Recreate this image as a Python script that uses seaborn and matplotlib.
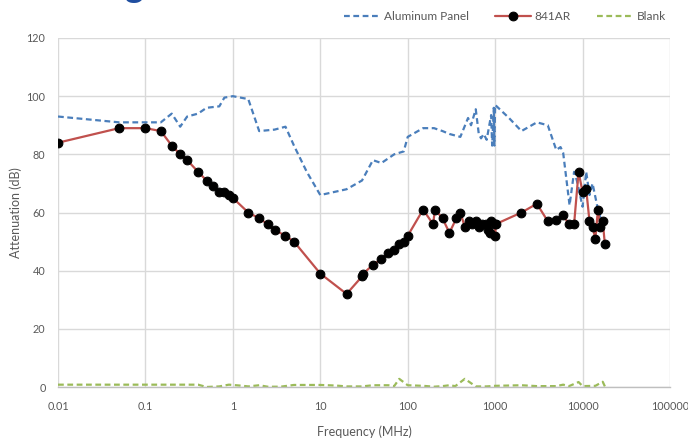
import matplotlib
matplotlib.use("Agg")
import matplotlib.pyplot as plt
import matplotlib.ticker as mticker
import seaborn as sns
import pandas as pd

# ---- data ----
al_freq = [0.01, 0.05, 0.1, 0.15, 0.2, 0.25, 0.3, 0.4, 0.5, 0.7, 0.8, 1, 1.5, 2, 3, 4, 5, 7,
           10, 20, 30, 40, 50, 70, 90, 100, 150, 200, 250, 300, 400, 490, 530, 600, 650, 690,
           740, 800, 900, 925, 965, 980, 1000, 1440, 2000, 3000, 4000, 5000, 5600, 6000, 7100,
           8000, 8600, 10000, 11000, 12000, 13000, 15000, 16500]
al_att = [93, 91, 91, 91, 94, 89.5, 93, 94, 96, 96.5, 99.5, 100, 99, 88, 88.5, 89.5, 83, 74,
          66, 68, 71, 78, 77, 80, 81, 86, 89, 89, 88, 87, 86, 92.5, 90, 95.5, 87, 85.5,
          87, 85, 93.5, 83, 96, 83, 97, 92.5, 88, 91, 90, 81.5, 82.5, 80.5, 62.5,
          74, 71, 62, 74, 66, 70, 61, 57]

ar_freq = [0.01, 0.05, 0.1, 0.15, 0.2, 0.25, 0.3, 0.4, 0.5, 0.6, 0.7, 0.8, 0.9, 1, 1.5, 2, 2.5,
           3, 4, 5, 10, 20, 30, 31, 40, 50, 60, 70, 80, 90, 100, 150, 195, 205, 250, 300, 360,
           400, 450, 500, 550, 600, 650, 700, 780, 820, 865, 900, 990, 1000, 1015, 2000, 3000,
           4000, 5000, 6000, 7000, 8000, 9000, 10000, 11000, 12000, 13000, 14000, 15000, 16000,
           17000, 18000]
ar_att = [84, 89, 89, 88, 83, 80, 78, 74, 71, 69, 67, 67, 66, 65, 60, 58, 56,
          54, 52, 50, 39, 32, 38, 39, 42, 44, 46, 47, 49, 50, 52, 61, 56, 61, 58, 53, 58,
          60, 55, 57, 56, 57, 55, 56, 56, 54, 53, 57, 56, 52, 56, 60, 63,
          57, 57.5, 59, 56, 56, 74, 67, 68, 57, 55, 51, 61, 55,
          57, 49]

bl_freq = [0.01, 0.05, 0.1, 0.2, 0.4, 0.5, 0.7, 0.9, 1.2, 1.5, 2, 2.5, 3.5, 5, 10, 15, 20, 30,
           40, 60, 70, 80, 100, 150, 200, 250, 300, 350, 450, 600, 800, 1000, 2000, 3000, 5000,
           6000, 7000, 9000, 10000, 14000, 17000, 18000]
bl_att = [0.8, 0.8, 0.8, 0.8, 0.8, 0.0, 0.2, 0.8, 0.5, 0.2, 0.6, 0.1, 0.1, 0.7, 0.7, 0.5, 0.2, 0.2,
          0.6, 0.6, 0.3, 2.8, 0.6, 0.4, 0.1, 0.3, 0.6, 0.3, 2.8, 0.2, 0.2, 0.4, 0.6, 0.3, 0.3,
          0.8, 0.3, 1.7, 0.3, 0.4, 1.8, 0.2]

x_ticks = [0.01, 0.1, 1, 10, 100, 1000, 10000, 100000]
x_tick_labels = ["0.01", "0.1", "1", "10", "100", "1000", "10000", "100000"]
y_ticks = [0, 20, 40, 60, 80, 100, 120]

# ---- style ----
sns.set_theme(style="white")
plt.rcParams["font.family"] = ["Lato", "DejaVu Sans"]

BLUE = "#4A7EBB"
RED = "#C0504D"
GREEN = "#9BBB59"
TXT = "#595959"
GRID = "#D9D9D9"

fig = plt.figure(figsize=(6.88, 4.38), dpi=100)
ax = fig.add_axes([58 / 688, 1 - 387 / 438, (670 - 58) / 688, (387 - 38) / 438])

df_al = pd.DataFrame({"f": al_freq, "a": al_att})
df_ar = pd.DataFrame({"f": ar_freq, "a": ar_att})
df_bl = pd.DataFrame({"f": bl_freq, "a": bl_att})

dash = (0, (2.6, 1.6))
sns.lineplot(data=df_al, x="f", y="a", ax=ax, color=BLUE, lw=1.6, sort=False,
             estimator=None, label="Aluminum Panel", linestyle=dash)
sns.lineplot(data=df_ar, x="f", y="a", ax=ax, color=RED, lw=1.6, sort=False,
             estimator=None, label="841AR", marker="o", markersize=6.3,
             markerfacecolor="black", markeredgecolor="black")
sns.lineplot(data=df_bl, x="f", y="a", ax=ax, color=GREEN, lw=1.6, sort=False,
             estimator=None, label="Blank", linestyle=dash)

for ln in ax.get_lines():
    if ln.get_color() in (BLUE, GREEN):
        ln.set_linestyle(dash)

ax.set_xscale("log")
ax.set_xlim(0.01, 100000)
ax.set_ylim(0, 120)
ax.set_xticks(x_ticks)
ax.xaxis.set_major_formatter(mticker.FixedFormatter(x_tick_labels))
ax.xaxis.set_minor_locator(mticker.NullLocator())
ax.set_yticks(y_ticks)
ax.grid(True, which="major", color=GRID, lw=1.0)
ax.set_axisbelow(True)
for s in ["top", "left", "right"]:
    ax.spines[s].set_visible(False)
ax.spines["bottom"].set_color("#BFBFBF")
ax.spines["bottom"].set_linewidth(1.0)
ax.tick_params(axis="both", length=0, labelsize=7.8, colors=TXT)
ax.tick_params(axis="x", pad=10)
ax.tick_params(axis="y", pad=9)

ax.set_xlabel("Frequency (MHz)", fontsize=9, color=TXT, labelpad=10)
ax.set_ylabel("Attenuation (dB)", fontsize=9, color=TXT, labelpad=3)

ax.get_legend().remove()
handles, labels = ax.get_legend_handles_labels()
fig.legend(handles, labels, loc="center", bbox_to_anchor=(505 / 688, 1 - 17 / 438),
           ncol=3, frameon=False, fontsize=8.6, labelcolor=TXT, handlelength=3.0,
           columnspacing=2.2, handletextpad=0.3)

# clipped slide title fragment at the very top
fig.text(134 / 688, 1.006, "g", fontsize=26, fontweight="bold", color="#1F4EA0",
         ha="center", va="baseline")

fig.savefig("out.png", dpi=100)
